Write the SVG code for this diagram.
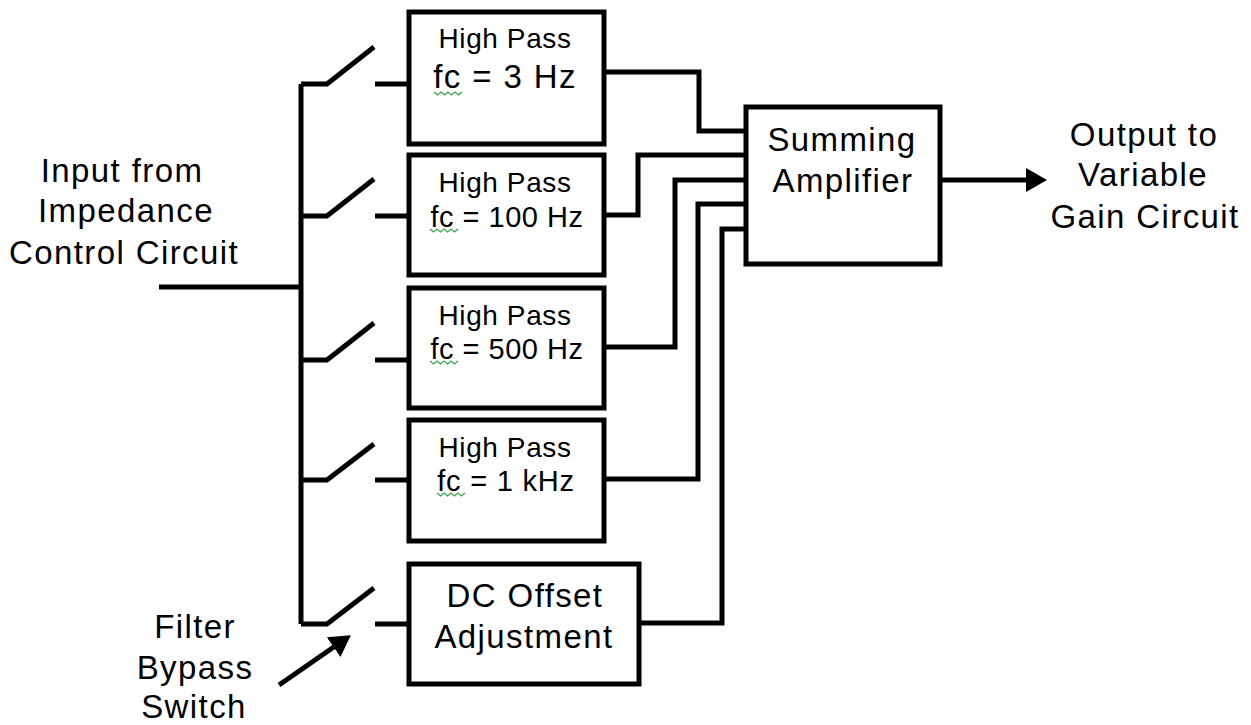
<svg xmlns="http://www.w3.org/2000/svg" width="1251" height="725" viewBox="0 0 1251 725">
<defs><marker id="ah" markerUnits="userSpaceOnUse" markerWidth="24" markerHeight="28" refX="9" refY="13" orient="auto"><path d="M0 1 L21 13 L0 25 Z" fill="#000"/></marker></defs>
<style>
.b{fill:#fff;stroke:#000;stroke-width:5}
.c{fill:none;stroke:#000;stroke-width:5}
text{font-family:"Liberation Sans",Arial,sans-serif;font-size:33px;letter-spacing:1.4px;fill:#000;text-anchor:middle}
.s{font-size:28px;letter-spacing:.6px}
.m{font-size:29px;letter-spacing:.5px}
.w{fill:none;stroke:#3aa04a;stroke-width:1.2}
</style>
<rect width="1251" height="725" fill="#fff"/>
<g id="connectors">
<path class="c" d="M159 287H301M301 84V624M301 84H327L374 47M375 84H409M301 216H327L374 179M375 216H409M301 360H327L374 323M375 360H409M301 480H327L374 444M375 480H409M301 624H327L374 588M375 624H409"/>
<path class="c" d="M605 72H699V131H746M605 215H638V155H746M605 347H675V180H746M605 479H698V204H746M640 623H722V229H746"/>
<path class="c" d="M940 180H1035" marker-end="url(#ah)"/>
<path class="c" d="M279 685L341 642" marker-end="url(#ah)"/>
</g>
<g id="hp3"><rect class="b" x="409" y="12" width="195" height="132"/><text x="505" y="48" class="s">High Pass</text><text x="505" y="88">fc = 3 Hz</text><path class="w" d="M434 92l3.500 3 3.500-3 3.500 3 3.500-3 3.500 3 3.500-3 3.500 3 3.500-3"/></g>
<g id="hp100"><rect class="b" x="409" y="155" width="195" height="120"/><text x="505" y="192" class="s">High Pass</text><text x="507" y="227" class="m">fc = 100 Hz</text><path class="w" d="M430 229l3.500 3 3.500-3 3.500 3 3.500-3 3.500 3 3.500-3 3.500 3 3.500-3"/></g>
<g id="hp500"><rect class="b" x="409" y="288" width="195" height="120"/><text x="505" y="325" class="s">High Pass</text><text x="507" y="359" class="m">fc = 500 Hz</text><path class="w" d="M430 361l3.500 3 3.500-3 3.500 3 3.500-3 3.500 3 3.500-3 3.500 3 3.500-3"/></g>
<g id="hp1k"><rect class="b" x="409" y="420" width="195" height="121"/><text x="505" y="457" class="s">High Pass</text><text x="506" y="491" class="m" style="letter-spacing:.8px">fc = 1 kHz</text><path class="w" d="M437 493l3.500 3 3.500-3 3.500 3 3.500-3 3.500 3 3.500-3 3.500 3 3.500-3"/></g>
<g id="dc"><rect class="b" x="409" y="564" width="230" height="120"/><text x="525" y="607">DC Offset</text><text x="524" y="648">Adjustment</text></g>
<g id="sum"><rect class="b" x="746" y="107" width="194" height="157"/><text x="842" y="151">Summing</text><text x="843" y="192">Amplifier</text></g>
<g id="input"><text x="122" y="182">Input from</text><text x="126" y="222">Impedance</text><text x="124" y="264">Control Circuit</text></g>
<g id="output"><text x="1144" y="146">Output to</text><text x="1143" y="186">Variable</text><text x="1145" y="228">Gain Circuit</text></g>
<g id="bypass"><text x="195" y="638">Filter</text><text x="195" y="679">Bypass</text><text x="194" y="718">Switch</text></g>
</svg>
